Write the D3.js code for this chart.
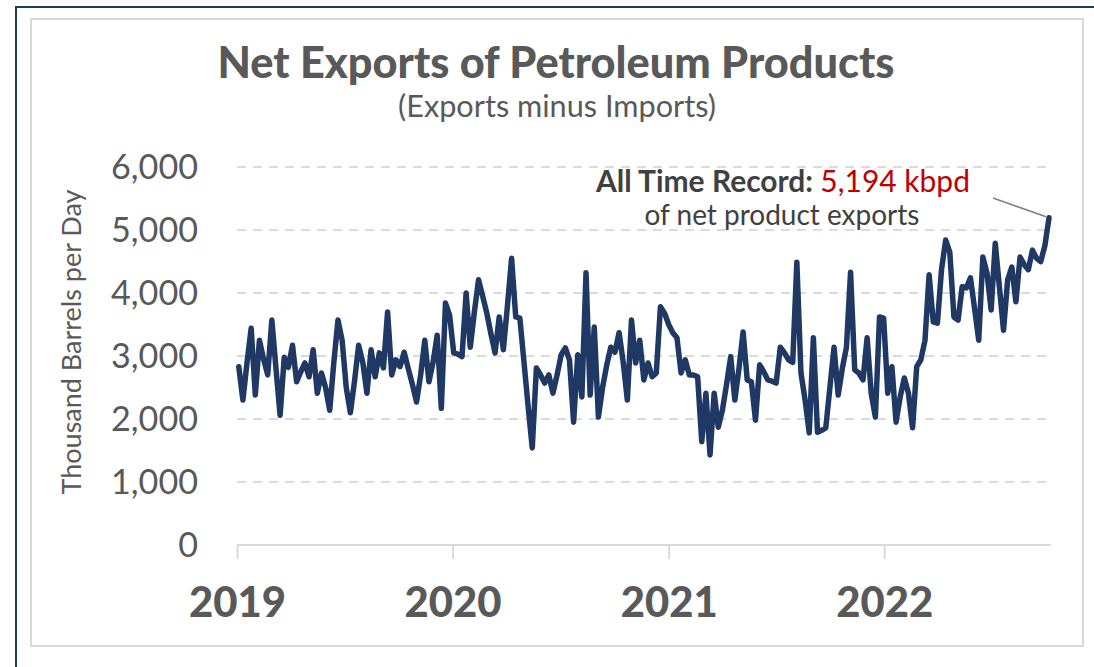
<!DOCTYPE html>
<html><head><meta charset="utf-8">
<script src="https://cdn.jsdelivr.net/npm/d3@7"></script>
<style>html,body{margin:0;padding:0;background:#fff;}svg{display:block;}text{font-family:Lato,"Open Sans",sans-serif;}</style>
</head><body>
<svg id="chart" width="1094" height="667"></svg>
<script>
// ---- data (weekly, first week of Jan 2019 onward), thousand barrels per day ----
const startDate = "2019-01-04";
const values = [
2830,2300,2900,3440,2380,3250,2950,2700,3570,2800,2060,2980,2820,3170,2590,2750,2890,2670,3100,2410,
2730,2500,2140,2900,3570,3250,2500,2100,2600,3170,2900,2410,3100,2670,3050,2810,3700,2700,2940,2830,
3060,2800,2550,2270,2700,3250,2590,2900,3330,2170,3840,3650,3050,3030,2990,4000,3140,3700,4210,3950,
3680,3350,3050,3620,3100,3800,4550,3620,3600,2900,2200,1540,2810,2700,2570,2700,2410,2700,3020,3130,
2940,1950,3020,2350,4320,2380,3460,2030,2500,2850,3140,3060,3370,2900,2300,3570,2890,3250,2620,2890,
2670,2730,3780,3680,3500,3370,3290,2730,2940,2700,2700,2670,1640,2410,1430,2410,1870,2140,2550,2990,
2300,2800,3380,2620,2590,1980,2860,2750,2620,2600,2570,3140,3050,2940,2900,4490,2730,2300,1780,3290,
1790,1820,1860,2500,3140,2380,2800,3140,4330,2780,2730,2620,3290,2400,2030,3620,3600,2410,2830,1950,
2350,2650,2410,1860,2830,2940,3250,4290,3540,3520,4370,4840,4650,3620,3570,4100,4080,4240,3750,3250,
4570,4320,3730,4790,4100,3410,4210,4410,3860,4570,4450,4370,4680,4550,4500,4750,5194
];
const yTicks = [0,1000,2000,3000,4000,5000,6000];
const yearTicks = ["2019","2020","2021","2022"];
const title = "Net Exports of Petroleum Products";
const subtitle = "(Exports minus Imports)";
const yLabel = "Thousand Barrels per Day";
const recordLabel = "All Time Record:";
const recordValue = "5,194 kbpd";
const recordSub = "of net product exports";

// ---- build ----
const parse = d3.timeParse("%Y-%m-%d");
const t0 = parse(startDate);
const data = values.map((v,i)=>({date:d3.timeDay.offset(t0, i*7), value:v}));

const svg = d3.select("#chart");
const grey = "#595959";

// frames
svg.append("rect").attr("x",16).attr("y",7).attr("width",1100).attr("height",700)
  .attr("fill","#fff").attr("stroke","#1f3b5a").attr("stroke-width",2);
svg.append("rect").attr("x",31).attr("y",19).attr("width",1052).attr("height",627)
  .attr("fill","#fff").attr("stroke","#d9d9d9").attr("stroke-width",2);

const x = d3.scaleTime()
  .domain([parse("2019-01-01"), data[data.length-1].date])
  .range([237, 1049]);
const y = d3.scaleLinear().domain([0,6000]).range([545,167]);

function fit(sel, w){
  const fs = parseFloat(sel.attr("font-size"));
  const len = sel.node().getComputedTextLength();
  const nf = fs*w/len;
  sel.attr("font-size", nf);
  return nf;
}

// gridlines
svg.append("g").selectAll("line").data(yTicks.filter(d=>d>0)).join("line")
  .attr("x1",237).attr("x2",1051)
  .attr("y1",d=>y(d)).attr("y2",d=>y(d))
  .attr("stroke","#d0d0d0").attr("stroke-width",1.5).attr("stroke-dasharray","9,7");

// y axis labels
const yAxis = svg.append("g").attr("transform","translate(198,0)")
  .call(d3.axisLeft(y).tickValues(yTicks).tickSize(0).tickPadding(0).tickFormat(d3.format(",")));
yAxis.select(".domain").remove();
const yTexts = yAxis.selectAll("text").attr("font-size",30).attr("fill",grey)
  .attr("font-family","Lato, sans-serif").attr("dy","0.35em");
const topLabel = yTexts.filter(d=>d===6000);
const yfs = fit(topLabel, 87);
yTexts.attr("font-size", yfs);

// x axis
const yearDates = yearTicks.map(s=>parse(s+"-01-01"));
const xAxis = svg.append("g").attr("transform","translate(0,545)")
  .call(d3.axisBottom(x).tickValues(yearDates).tickSize(14).tickSizeOuter(0).tickPadding(24)
    .tickFormat(d3.timeFormat("%Y")));
xAxis.select(".domain").attr("stroke","#d9d9d9").attr("stroke-width",2)
  .attr("d","M237,0H1051");
xAxis.selectAll(".tick line").attr("stroke","#d9d9d9").attr("stroke-width",2);
const xTexts = xAxis.selectAll("text").attr("font-size",34).attr("font-weight",900).attr("fill",grey)
  .attr("font-family","Lato, sans-serif").attr("dy",0).attr("y",72);
const xfs = fit(xTexts.filter((d,i)=>i===0), 97);
xTexts.attr("font-size", xfs);

// line
svg.append("path").datum(data)
  .attr("fill","none").attr("stroke","#1f3864").attr("stroke-width",5.5)
  .attr("stroke-linejoin","round").attr("stroke-linecap","round")
  .attr("d", d3.line().x(d=>x(d.date)).y(d=>y(d.value)));

// titles
const tt = svg.append("text").attr("x",556).attr("y",78).attr("text-anchor","middle")
  .attr("font-size",36).attr("font-weight",900).attr("fill",grey).text(title);
fit(tt, 677);
const st = svg.append("text").attr("x",557).attr("y",117).attr("text-anchor","middle")
  .attr("font-size",24).attr("fill",grey).text(subtitle);
fit(st, 318);

// y label
const yl = svg.append("text").attr("transform","translate(81,342) rotate(-90)")
  .attr("text-anchor","middle").attr("font-size",22).attr("fill",grey).text(yLabel);
fit(yl, 305);

// annotation
const a1 = svg.append("text").attr("x",596).attr("y",192).attr("font-size",24);
a1.append("tspan").attr("font-weight",700).attr("fill","#404040").text(recordLabel+" ");
a1.append("tspan").attr("fill","#c00000").text(recordValue);
fit(a1, 374);
const a2 = svg.append("text").attr("x",782).attr("y",225).attr("text-anchor","middle")
  .attr("font-size",24).attr("fill","#404040").text(recordSub);
fit(a2, 275);
const last = data[data.length-1];
svg.append("line").attr("x1",993).attr("y1",198)
  .attr("x2",x(last.date)-3).attr("y2",y(last.value)-1)
  .attr("stroke","#808080").attr("stroke-width",1.5);
</script>
</body></html>
